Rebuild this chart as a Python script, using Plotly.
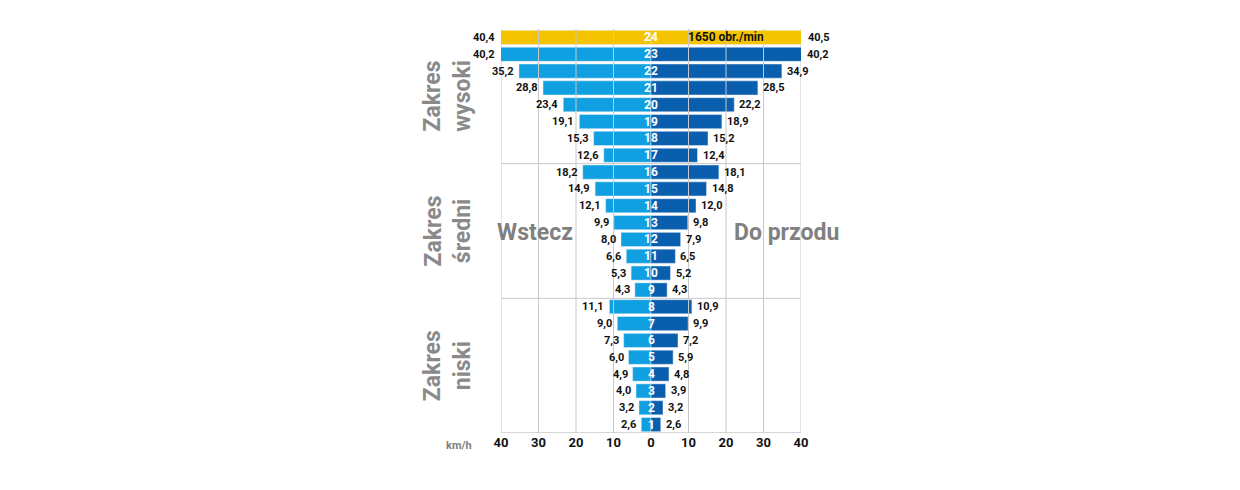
import plotly.graph_objects as go

gears = list(range(1, 25))
reverse = [2.6,3.2,4.0,4.9,6.0,7.3,9.0,11.1,4.3,5.3,6.6,8.0,9.9,12.1,14.9,18.2,12.6,15.3,19.1,23.4,28.8,35.2,40.2,40.4]
forward = [2.6,3.2,3.9,4.8,5.9,7.2,9.9,10.9,4.3,5.2,6.5,7.9,9.8,12.0,14.8,18.1,12.4,15.2,18.9,22.2,28.5,34.9,40.2,40.5]
tick_vals = [-40,-30,-20,-10,0,10,20,30,40]
tick_text = ["40","30","20","10","0","10","20","30","40"]
groups = [("Zakres<br>niski", 1, 8), ("Zakres<br>średni", 9, 16), ("Zakres<br>wysoki", 17, 24)]

def fmt(v):
    return f"{v:.1f}".replace(".", ",")

def px(v):
    return (v + 40) / 80

lcol = ["#F5C400" if g == 24 else "#109FE0" for g in gears]
rcol = ["#F5C400" if g == 24 else "#0A5EAE" for g in gears]

fig = go.Figure()
fig.add_bar(y=gears, x=[-v for v in reverse], orientation="h", marker_color=lcol, width=0.84, hoverinfo="skip", cliponaxis=False)
fig.add_bar(y=gears, x=forward, orientation="h", marker_color=rcol, width=0.84, hoverinfo="skip", cliponaxis=False)

ann = []
bf = dict(family="Roboto", size=11, color="#111")
for g, r, f in zip(gears, reverse, forward):
    ann.append(dict(x=px(-r), xref="paper", y=g, text=f"<b>{fmt(r)}</b>", xanchor="right", xshift=-3, showarrow=False, font=bf))
    ann.append(dict(x=px(f), xref="paper", y=g, text=f"<b>{fmt(f)}</b>", xanchor="left", xshift=3, showarrow=False, font=bf))
    ann.append(dict(x=0, y=g, text=f"<b>{g}</b>", showarrow=False, font=dict(family="Roboto", size=12, color="white")))
ann.append(dict(x=20, y=24, text="<b>1650 obr./min</b>", showarrow=False, font=dict(family="Roboto", size=12, color="#111")))
ann.append(dict(x=-31, y=12.4, text="<b>Wstecz</b>", showarrow=False, font=dict(family="Roboto", size=23, color="#808080")))
ann.append(dict(x=36, y=12.4, text="<b>Do przodu</b>", showarrow=False, font=dict(family="Roboto", size=23, color="#808080")))
for label, lo, hi in groups:
    ann.append(dict(x=-0.28, xref="paper", y=(lo+hi)/2, text=f"<b>{label}</b>", textangle=-90, showarrow=False,
                    font=dict(family="Roboto", size=23, color="#8a8a8a")))
ann.append(dict(x=-0.19, xref="paper", y=-0.01, yref="paper", text="<b>km/h</b>", showarrow=False,
                font=dict(family="Roboto", size=11, color="#808080"), yanchor="top"))

shapes = []
for t in tick_vals:
    if t == 0:
        continue
    shapes.append(dict(type="line", x0=t, x1=t, y0=0, y1=1, yref="paper",
                       line=dict(color="#c8c8c8", width=1), layer="above" if abs(t) < 40 else "below"))
for yb in [8.5, 16.5]:
    shapes.append(dict(type="line", x0=-40, x1=40, y0=yb, y1=yb, line=dict(color="#c8c8c8", width=1), layer="below"))
shapes.append(dict(type="line", x0=-40, x1=40, y0=0.5, y1=0.5, line=dict(color="#c8c8c8", width=1.5)))

fig.update_layout(
    width=1240, height=490, barmode="overlay", showlegend=False,
    margin=dict(l=493, r=447, t=21, b=65, autoexpand=False),
    plot_bgcolor="white", paper_bgcolor="white",
    xaxis=dict(range=[-40, 40], tickvals=tick_vals, ticktext=[f"<b>{t}</b>" for t in tick_text],
               showgrid=False, zeroline=False, tickfont=dict(family="Roboto", size=13, color="#111")),
    yaxis=dict(range=[0.5, 24.5], showticklabels=False, showgrid=False, zeroline=False),
    annotations=ann, shapes=shapes,
)
fig.write_html("out.html")
